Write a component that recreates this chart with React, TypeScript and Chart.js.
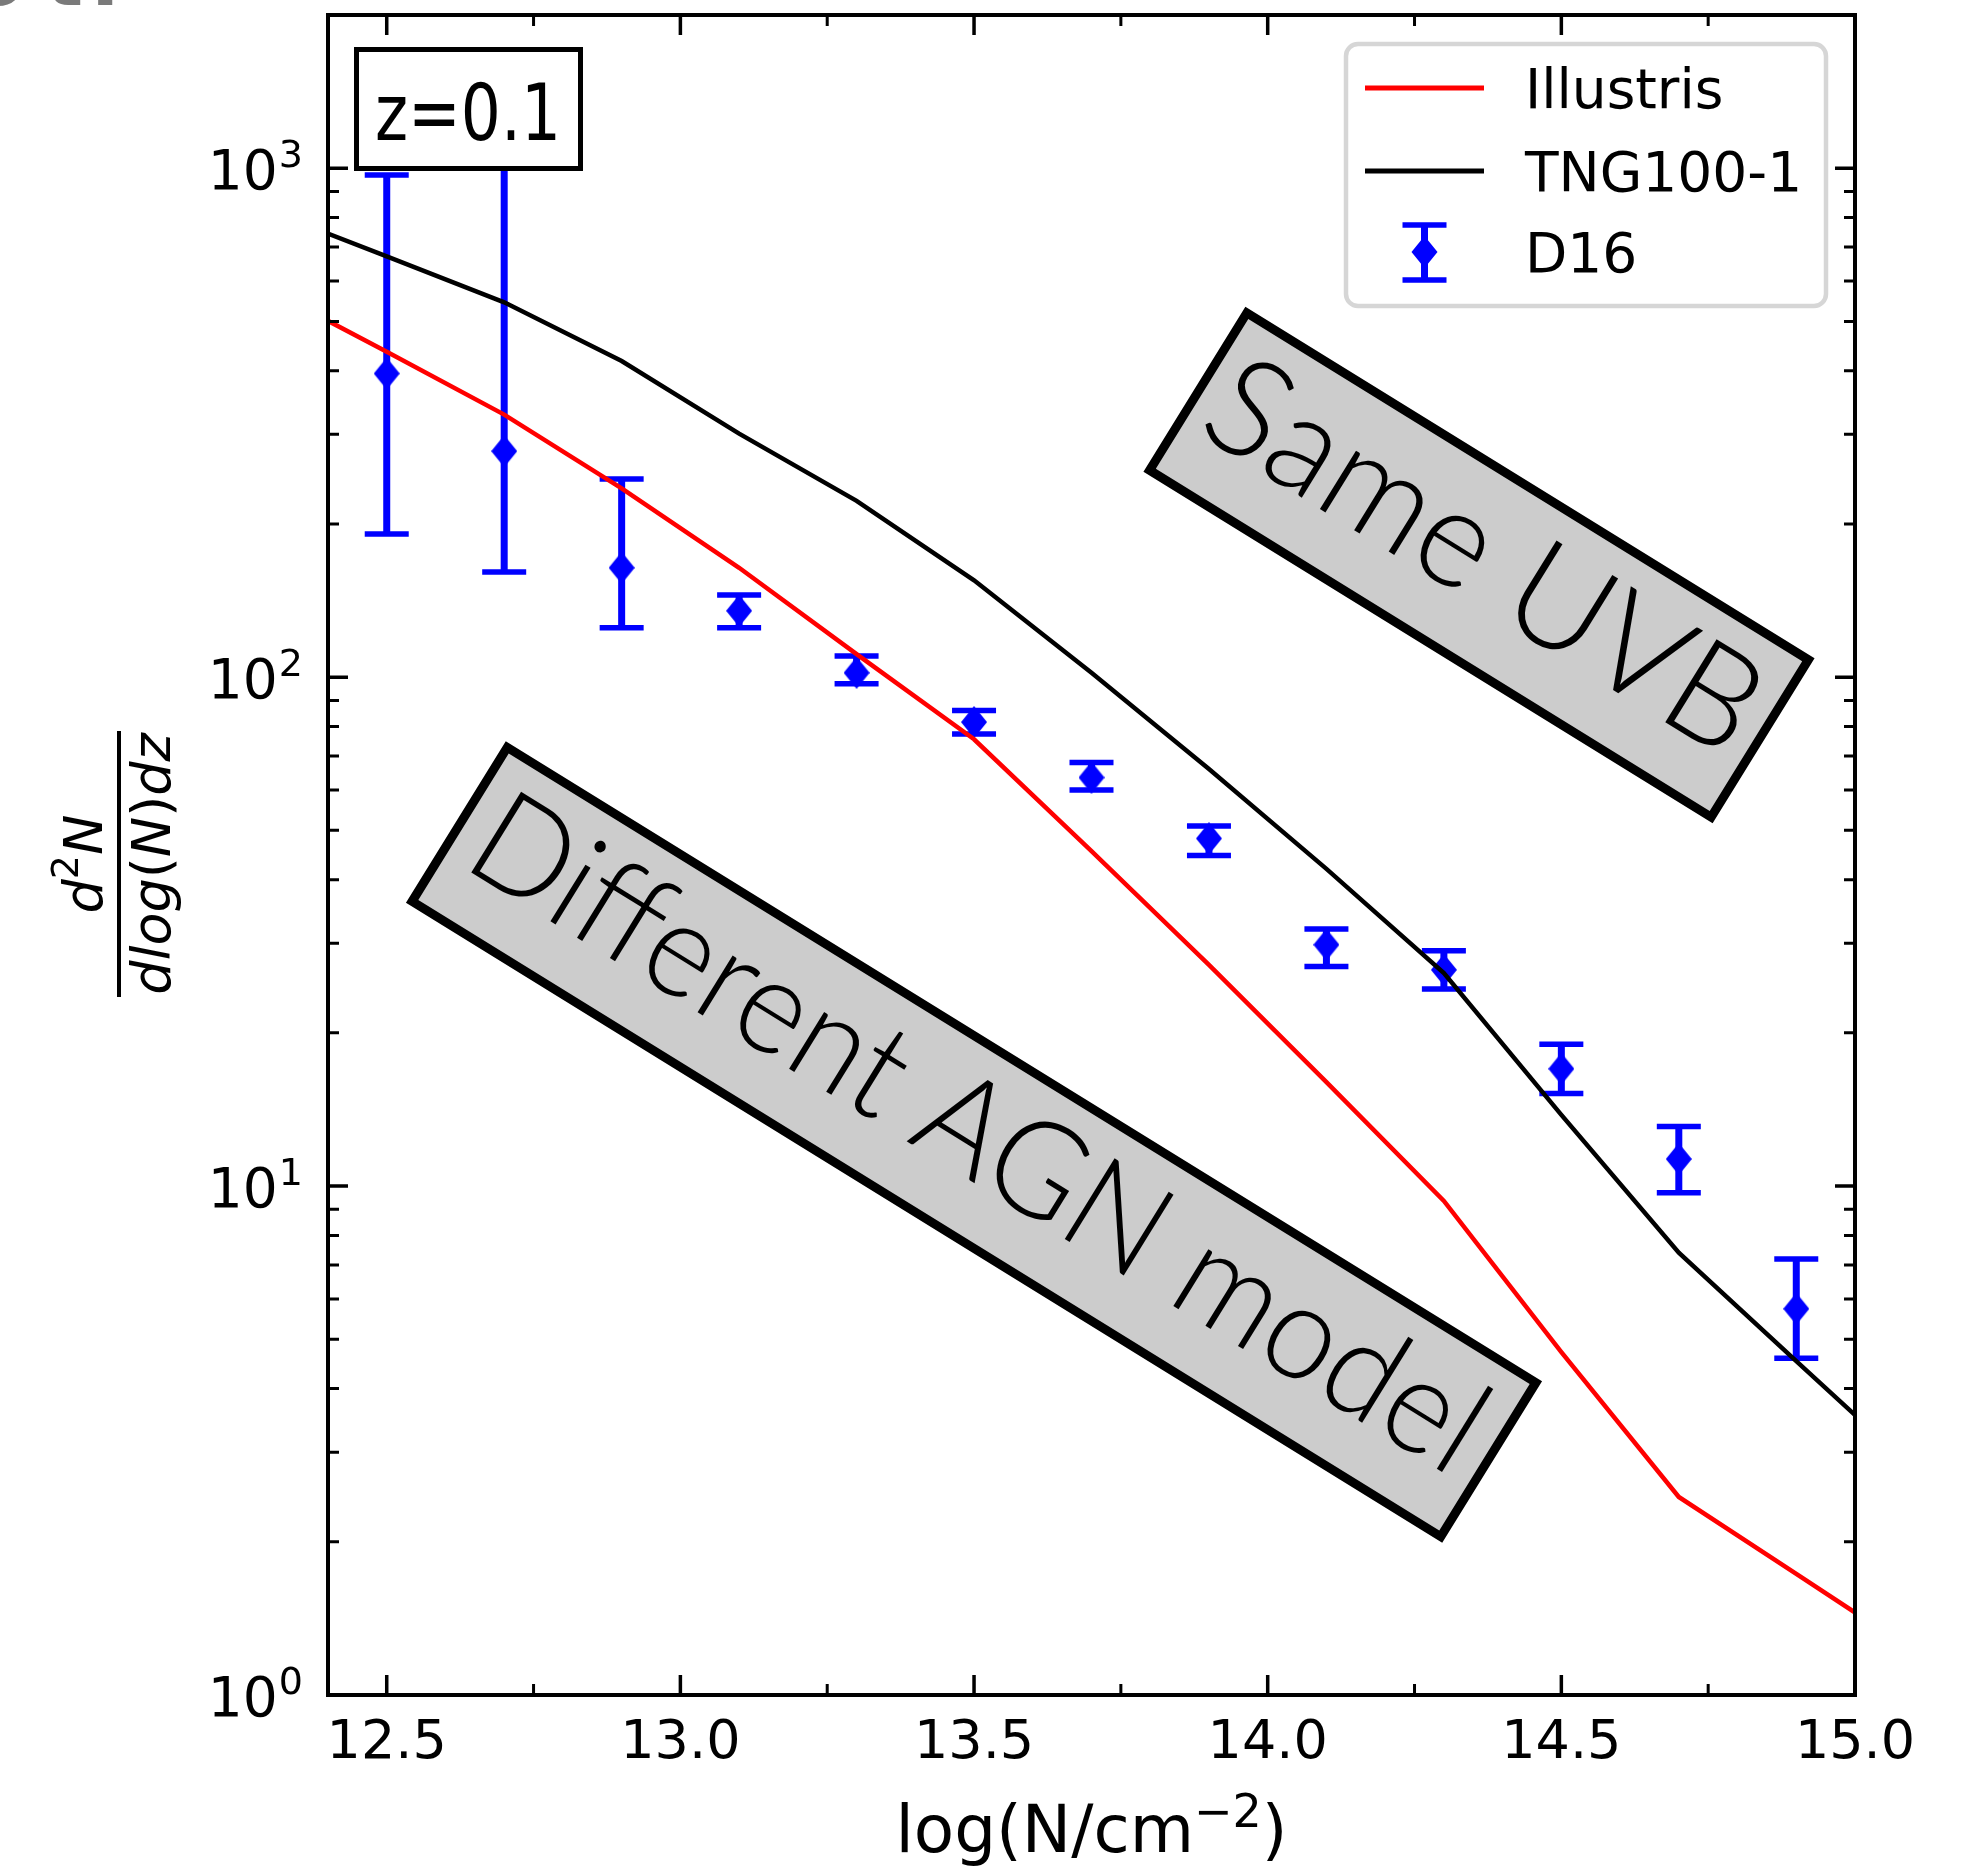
import React, { useEffect, useRef } from 'react';
import { Chart, registerables } from 'chart.js';
Chart.register(...registerables);

const W = 1972;
const H = 1866;

// Simulation curves (x = log N, y = d2N/dlogN dz)
const modelX = [12.3, 12.5, 12.7, 12.9, 13.1, 13.3, 13.5, 13.7, 13.9, 14.1, 14.3, 14.5, 14.7, 14.9, 15.1];
const illustrisY = [576, 436, 328, 235, 164, 111, 75.5, 45.5, 27.2, 16.0, 9.35, 4.72, 2.45, 1.73, 1.22];
const tngY = [824, 671, 545, 418, 301, 222, 155, 102, 66, 42, 26.2, 13.8, 7.4, 4.53, 2.78];

// D16 observational points
const d16X = [12.5, 12.7, 12.9, 13.1, 13.3, 13.5, 13.7, 13.9, 14.1, 14.3, 14.5, 14.7, 14.9];
const d16Y = [395, 278, 164, 135, 102, 81.6, 63.5, 48.2, 29.8, 26.6, 17.0, 11.3, 5.74];
const d16Lo = [191, 161, 125, 125, 97, 77.3, 60, 44.6, 27, 24.4, 15.2, 9.7, 4.59];
const d16Hi = [970, 1100, 245, 145, 110, 86, 68, 51, 32, 29, 19, 13.1, 7.19];

// Axis ticks
const xMajorTicks = [12.5, 13.0, 13.5, 14.0, 14.5, 15.0];
const xMinorTicks = [12.75, 13.25, 13.75, 14.25, 14.75];
const yMajorExps = [0, 1, 2, 3];
const yMinorMult = [2, 3, 4, 5, 6, 7, 8, 9];

const legendLabels = ['Illustris', 'TNG100-1', 'D16'];
const seriesColors = ['#ff0000', '#000000', '#0000ff'];

const FONT = '"DejaVu Sans"';

function drawRotBox(ctx: CanvasRenderingContext2D, cx: number, cy: number, w: number, h: number, ang: number, text: string, fs: number, textW: number) {
  ctx.save();
  ctx.translate(cx, cy);
  ctx.rotate((ang * Math.PI) / 180);
  ctx.fillStyle = '#cccccc';
  ctx.fillRect(-w / 2, -h / 2, w, h);
  ctx.lineWidth = 9;
  ctx.lineJoin = 'miter';
  ctx.strokeStyle = '#000000';
  ctx.strokeRect(-w / 2, -h / 2, w, h);
  ctx.font = `300 ${fs}px Lato`;
  const m = ctx.measureText(text).width;
  ctx.scale(textW / m, 1);
  ctx.fillStyle = '#000000';
  ctx.textAlign = 'center';
  ctx.textBaseline = 'alphabetic';
  ctx.fillText(text, 0, 0.26 * fs);
  ctx.restore();
}

function drawSegments(ctx: CanvasRenderingContext2D, segs: { t: string; f: string; dy?: number }[], cx: number, baseY: number) {
  let total = 0;
  for (const s of segs) {
    ctx.font = s.f;
    total += ctx.measureText(s.t).width;
  }
  let x = cx - total / 2;
  ctx.textAlign = 'left';
  ctx.textBaseline = 'alphabetic';
  for (const s of segs) {
    ctx.font = s.f;
    ctx.fillText(s.t, x, baseY + (s.dy || 0));
    x += ctx.measureText(s.t).width;
  }
}

function errorbarGlyph(ctx: CanvasRenderingContext2D, x: number, yTop: number, yBot: number) {
  ctx.strokeStyle = '#0000ff';
  ctx.lineWidth = 7;
  ctx.beginPath();
  ctx.moveTo(x, yTop);
  ctx.lineTo(x, yBot);
  ctx.stroke();
  ctx.lineWidth = 5.5;
  ctx.beginPath();
  ctx.moveTo(x - 22, yTop);
  ctx.lineTo(x + 22, yTop);
  ctx.moveTo(x - 22, yBot);
  ctx.lineTo(x + 22, yBot);
  ctx.stroke();
}

function diamondPath(ctx: CanvasRenderingContext2D, x: number, y: number) {
  ctx.fillStyle = '#0000ff';
  ctx.beginPath();
  ctx.moveTo(x, y - 16);
  ctx.lineTo(x + 13, y);
  ctx.lineTo(x, y + 16);
  ctx.lineTo(x - 13, y);
  ctx.closePath();
  ctx.fill();
}

const errorbarPlugin = {
  id: 'errorbars',
  beforeDatasetsDraw(chart: any) {
    const { ctx, chartArea, scales } = chart;
    ctx.save();
    ctx.beginPath();
    ctx.rect(chartArea.left, chartArea.top, chartArea.right - chartArea.left, chartArea.bottom - chartArea.top);
    ctx.clip();
    for (let i = 0; i < d16X.length; i++) {
      const px = scales.x.getPixelForValue(d16X[i]);
      errorbarGlyph(ctx, px, scales.y.getPixelForValue(d16Hi[i]), scales.y.getPixelForValue(d16Lo[i]));
    }
    ctx.restore();
  },
};

const overlayPlugin = {
  id: 'overlay',
  afterDatasetsDraw(chart: any) {
    const { ctx } = chart;
    ctx.save();
    // z=0.1 box
    ctx.fillStyle = '#ffffff';
    ctx.fillRect(354, 47, 229, 124);
    ctx.lineWidth = 5;
    ctx.strokeStyle = '#000000';
    ctx.strokeRect(356.5, 49.5, 224, 119);
    ctx.save();
    ctx.font = `78px ${FONT}`;
    const zw = ctx.measureText('z=0.1').width;
    ctx.translate(468, 140);
    ctx.scale(186 / zw, 1);
    ctx.fillStyle = '#000000';
    ctx.textAlign = 'center';
    ctx.textBaseline = 'alphabetic';
    ctx.fillText('z=0.1', 0, 0);
    ctx.restore();

    // annotation boxes
    drawRotBox(ctx, 1479, 565, 660, 185, 31.7, 'Same UVB', 138, 625);
    drawRotBox(ctx, 974, 1142, 1209, 181, 31.7, 'Different AGN model', 134, 1165);

    // legend
    const lx0 = 1346, ly0 = 44, lx1 = 1826, ly1 = 306, r = 12;
    ctx.beginPath();
    ctx.moveTo(lx0 + r, ly0);
    ctx.arcTo(lx1, ly0, lx1, ly1, r);
    ctx.arcTo(lx1, ly1, lx0, ly1, r);
    ctx.arcTo(lx0, ly1, lx0, ly0, r);
    ctx.arcTo(lx0, ly0, lx1, ly0, r);
    ctx.closePath();
    ctx.fillStyle = 'rgba(255,255,255,0.85)';
    ctx.fill();
    ctx.lineWidth = 4.5;
    ctx.strokeStyle = '#d6d6d6';
    ctx.stroke();

    const rowY = [88, 171, 252];
    ctx.lineWidth = 5;
    ctx.strokeStyle = seriesColors[0];
    ctx.beginPath();
    ctx.moveTo(1365, rowY[0]);
    ctx.lineTo(1484, rowY[0]);
    ctx.stroke();
    ctx.strokeStyle = seriesColors[1];
    ctx.beginPath();
    ctx.moveTo(1365, rowY[1]);
    ctx.lineTo(1484, rowY[1]);
    ctx.stroke();
    errorbarGlyph(ctx, 1424.5, 225, 280);
    diamondPath(ctx, 1424.5, rowY[2]);

    ctx.fillStyle = '#000000';
    ctx.font = `55px ${FONT}`;
    ctx.textAlign = 'left';
    ctx.textBaseline = 'alphabetic';
    ctx.fillText(legendLabels[0], 1525, 108);
    ctx.fillText(legendLabels[1], 1525, 191);
    ctx.fillText(legendLabels[2], 1525, 272);
    ctx.restore();
  },
  afterDraw(chart: any) {
    const { ctx, chartArea, scales } = chart;
    const { left, right, top, bottom } = chartArea;
    ctx.save();
    ctx.strokeStyle = '#000000';
    ctx.fillStyle = '#000000';

    // ticks
    ctx.lineWidth = 3.5;
    ctx.beginPath();
    for (const v of xMajorTicks) {
      const px = scales.x.getPixelForValue(v);
      ctx.moveTo(px, bottom);
      ctx.lineTo(px, bottom - 20);
      ctx.moveTo(px, top);
      ctx.lineTo(px, top + 20);
    }
    for (const e of yMajorExps) {
      const py = scales.y.getPixelForValue(Math.pow(10, e));
      ctx.moveTo(left, py);
      ctx.lineTo(left + 20, py);
      ctx.moveTo(right, py);
      ctx.lineTo(right - 20, py);
    }
    ctx.stroke();
    ctx.lineWidth = 3;
    ctx.beginPath();
    for (const v of xMinorTicks) {
      const px = scales.x.getPixelForValue(v);
      ctx.moveTo(px, bottom);
      ctx.lineTo(px, bottom - 11);
      ctx.moveTo(px, top);
      ctx.lineTo(px, top + 11);
    }
    for (const e of yMajorExps) {
      for (const m of yMinorMult) {
        const v = m * Math.pow(10, e);
        if (v > 2000) continue;
        const py = scales.y.getPixelForValue(v);
        ctx.moveTo(left, py);
        ctx.lineTo(left + 11, py);
        ctx.moveTo(right, py);
        ctx.lineTo(right - 11, py);
      }
    }
    ctx.stroke();

    // frame
    ctx.lineWidth = 4;
    ctx.strokeRect(left, top, right - left, bottom - top);

    // x tick labels
    ctx.font = `54px ${FONT}`;
    ctx.textAlign = 'center';
    ctx.textBaseline = 'alphabetic';
    for (const v of xMajorTicks) {
      ctx.fillText(v.toFixed(1), scales.x.getPixelForValue(v), 1758);
    }
    // y tick labels
    for (const e of yMajorExps) {
      const py = scales.y.getPixelForValue(Math.pow(10, e));
      ctx.font = `38px ${FONT}`;
      ctx.textAlign = 'right';
      const sup = String(e);
      const sw = ctx.measureText(sup).width;
      ctx.fillText(sup, 303, py - 1);
      ctx.font = `55px ${FONT}`;
      ctx.fillText('10', 303 - sw - 1, py + 21);
    }

    // x title
    drawSegments(
      ctx,
      [
        { t: 'log(N/cm', f: `66px ${FONT}` },
        { t: '\u22122', f: `46px ${FONT}`, dy: -25 },
        { t: ')', f: `66px ${FONT}` },
      ],
      (left + right) / 2,
      1852
    );

    // y title (fraction)
    ctx.save();
    ctx.translate(119, 864);
    ctx.rotate(-Math.PI / 2);
    const it = `italic 54px ${FONT}`;
    const up = `54px ${FONT}`;
    drawSegments(
      ctx,
      [
        { t: 'd', f: it },
        { t: '2', f: `38px ${FONT}`, dy: -24 },
        { t: 'N', f: it },
      ],
      0,
      -17
    );
    drawSegments(
      ctx,
      [
        { t: 'dlog', f: it },
        { t: '(', f: up },
        { t: 'N', f: it },
        { t: ')', f: up },
        { t: 'dz', f: it },
      ],
      0,
      51
    );
    ctx.fillRect(-133, -2, 266, 4);
    ctx.restore();

    // cut-off gray text at the top-left corner
    ctx.fillStyle = '#7a7a7a';
    ctx.font = `bold 80px ${FONT}`;
    ctx.textAlign = 'left';
    ctx.fillText('o', -30, 5);
    ctx.fillText('t', 45, 5);
    ctx.fillText('.', 90, 5);
    ctx.restore();
  },
};

export default function App() {
  const ref = useRef<HTMLCanvasElement>(null);
  useEffect(() => {
    const canvas = ref.current;
    if (!canvas) return;
    const diamond = document.createElement('canvas');
    diamond.width = 26;
    diamond.height = 32;
    const dctx = diamond.getContext('2d')!;
    diamondPath(dctx, 13, 16);

    const chart = new Chart(canvas, {
      type: 'scatter',
      data: {
        datasets: [
          {
            label: legendLabels[0],
            data: modelX.map((x, i) => ({ x, y: illustrisY[i] })),
            showLine: true,
            borderColor: seriesColors[0],
            backgroundColor: seriesColors[0],
            borderWidth: 4.5,
            pointRadius: 0,
            order: 1,
            clip: 0,
          } as any,
          {
            label: legendLabels[1],
            data: modelX.map((x, i) => ({ x, y: tngY[i] })),
            showLine: true,
            borderColor: seriesColors[1],
            backgroundColor: seriesColors[1],
            borderWidth: 4.5,
            pointRadius: 0,
            order: 0,
            clip: 0,
          } as any,
          {
            label: legendLabels[2],
            data: d16X.map((x, i) => ({ x, y: d16Y[i] })),
            showLine: false,
            pointStyle: diamond,
            pointRadius: 14,
            backgroundColor: seriesColors[2],
            borderColor: seriesColors[2],
            order: 5,
          } as any,
        ],
      },
      options: {
        responsive: false,
        animation: false,
        devicePixelRatio: 1,
        events: [],
        layout: { padding: { left: 0, top: 15, right: 117, bottom: 0 } },
        plugins: { legend: { display: false }, tooltip: { enabled: false }, title: { display: false } },
        scales: {
          x: {
            type: 'linear',
            min: 12.4,
            max: 15.0,
            grid: { display: false },
            border: { display: false },
            ticks: { display: false },
            afterFit: (s: any) => {
              s.height = 171;
            },
          },
          y: {
            type: 'logarithmic',
            min: 1,
            max: 2000,
            grid: { display: false },
            border: { display: false },
            ticks: { display: false },
            afterFit: (s: any) => {
              s.width = 328;
            },
          },
        },
      } as any,
      plugins: [errorbarPlugin, overlayPlugin],
    });
    return () => chart.destroy();
  }, []);
  return (
    <div style={{ position: 'absolute', left: 0, top: 0, width: W, height: H, background: '#ffffff' }}>
      <canvas ref={ref} width={W} height={H} style={{ display: 'block', width: W, height: H }} />
    </div>
  );
}
